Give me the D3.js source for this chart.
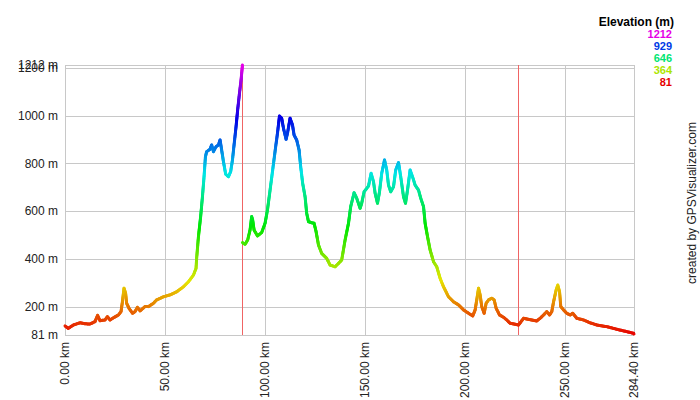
<!DOCTYPE html>
<html><head><meta charset="utf-8">
<script src="https://cdn.jsdelivr.net/npm/d3@7"></script>
<style>body{margin:0;background:#fff}svg{display:block;font-family:Arial,"Liberation Sans",sans-serif}</style>
</head><body><svg width="700" height="400"></svg>
<script>
// Track 1 (km, elevation m)
const track1Km  = [0,1.6,4.2,7.5,10,12.5,15,16.3,17.5,20,21.2,22.5,24.2,26.7,28,28.7,29.5,30.3,30.8,32,33.8,35,36.2,37.5,40,41.7,44.2,45.8,49.2,52.5,55.8,59.2,61.7,64.2,65.5,65.8,66.7,67.8,68.7,69.5,70.2,70.8,72.5,73.3,74.2,75.5,76.7,77.5,78.3,79.2,80.3,81.7,82.8,83.7,84.5,85.5,86.3,87.2,88,88.7];
const track1Ele = [119,109,123,132,128,127,137,163,141,144,158,144,153,165,179,220,277,256,214,193,172,179,197,182,200,200,214,228,241,249,262,283,304,332,360,402,493,577,660,744,828,849,859,877,849,870,877,898,856,807,755,744,765,814,877,954,1024,1093,1149,1212];
// Track 2 (km, elevation m)
const track2Km  = [88.7,90,91.3,92.5,93.3,93.8,94.5,96.2,98.3,100,101.2,102.5,103.8,105.3,106.2,107.2,108.3,109.2,110.5,111.2,112.5,113.7,114.5,115.8,117,117.8,118.8,120,120.8,121.7,123.3,124.5,125.5,126.7,128.3,130.8,132.5,135,136.7,138.3,140,141.7,142.8,144.5,145.8,147.5,148.3,149.5,151.7,153,154.2,155,156.2,157.2,158.3,159.7,160.8,161.7,162.8,164.2,165.3,166.7,167.8,169.2,170.2,171.2,172.5,173.7,175,176.7,177.8,179.2,180,181.2,182.5,184.2,185.8,187.5,189.2,191.7,194.2,196.7,199.2,201.7,203.8,205,205.8,206.7,207.5,208.3,209.5,210.5,211.7,213.3,214.5,215.5,217.2,219.2,220.8,222.5,225,226.7,229.2,230.8,233.3,235.8,237.5,239.2,240.8,242.2,243.3,244.2,245.5,246.3,247.2,247.8,249.2,250.8,252.5,253.8,255.8,259.2,262.5,265.8,270.8,275.8,280.8,284.2,284.4];
const track2Ele = [468,461,479,521,577,563,521,496,510,549,605,688,772,870,926,998,989,947,901,926,989,961,919,898,856,786,716,660,591,556,551,549,514,458,423,402,374,367,381,395,479,549,619,677,654,612,633,681,705,758,723,675,633,681,758,814,772,709,681,702,772,803,744,660,633,688,772,744,709,688,654,619,549,493,437,388,367,318,283,241,220,207,186,172,161,186,228,277,249,200,172,214,228,235,228,193,165,155,144,130,126,123,151,148,144,140,151,165,179,165,179,220,270,290,262,200,186,172,165,172,151,144,132,123,116,105,95,88,85];

const xTickValues = [0,50,100,150,200,250,284.4];
const yTickValues = [81,200,400,600,800,1000,1200,1212];
const legendValues = [1212,929,646,364,81];
const markerKm = [88.7,226.2];
const legendTitle = "Elevation (m)";
const creditText = "created by GPSVisualizer.com";

const svg = d3.select("svg");
const x = d3.scaleLinear().domain([0,284.4]).range([65,634]);
const y = d3.scaleLinear().domain([81,1212]).range([335,65]);
const hue = d3.scaleLinear().domain([81,1212]).range([0,300]);
const col = v => d3.hsl(hue(v),1,0.45).formatHex();

// grid
const g = svg.append("g").attr("shape-rendering","crispEdges");
g.selectAll(".hg").data(yTickValues).join("line")
  .attr("x1",x(0)).attr("x2",x(284.4))
  .attr("y1",d=>Math.round(y(d))+0.5).attr("y2",d=>Math.round(y(d))+0.5)
  .attr("stroke","#c8c8c8");
g.selectAll(".vg").data(xTickValues).join("line")
  .attr("y1",y(1212)).attr("y2",y(81))
  .attr("x1",d=>Math.round(x(d))+0.5).attr("x2",d=>Math.round(x(d))+0.5)
  .attr("stroke","#c8c8c8");
// markers
g.selectAll(".mk").data(markerKm).join("line")
  .attr("y1",y(1212)).attr("y2",y(81))
  .attr("x1",d=>Math.round(x(d))+0.5).attr("x2",d=>Math.round(x(d))+0.5)
  .attr("stroke","#f06464");

// profile, coloured by elevation
const lg = svg.append("g").attr("stroke-width",3).attr("stroke-linecap","round");
[[track1Km,track1Ele],[track2Km,track2Ele]].forEach(([ks,es])=>{
  for(let i=0;i<ks.length-1;i++){
    const x0=x(ks[i]),y0=y(es[i]),x1=x(ks[i+1]),y1=y(es[i+1]);
    const n=Math.max(1,Math.ceil(Math.hypot(x1-x0,y1-y0)/1.5));
    for(let j=0;j<n;j++){
      const t0=j/n,t1=(j+1)/n,tm=(t0+t1)/2;
      lg.append("line")
        .attr("x1",x0+(x1-x0)*t0).attr("y1",y0+(y1-y0)*t0)
        .attr("x2",x0+(x1-x0)*t1).attr("y2",y0+(y1-y0)*t1)
        .attr("stroke",col(es[i]+(es[i+1]-es[i])*tm));
    }
  }
});

// y labels
svg.append("g").selectAll("text").data(yTickValues).join("text")
  .attr("x",58).attr("y",d=>y(d)).attr("dy","0.35em")
  .attr("text-anchor","end").attr("font-size",12).attr("fill","#222")
  .text(d=>d+" m");
// x labels
svg.append("g").selectAll("text").data(xTickValues).join("text")
  .attr("transform",d=>`translate(${x(d)},342) rotate(-90)`)
  .attr("dy","0.35em").attr("text-anchor","end").attr("font-size",12).attr("fill","#222")
  .text(d=>d3.format(".2f")(d)+" km");

// legend
svg.append("text").attr("x",674).attr("y",26).attr("text-anchor","end")
  .attr("font-size",12).attr("font-weight","bold").attr("fill","#000").text(legendTitle);
svg.append("g").selectAll("text").data(legendValues).join("text")
  .attr("x",672).attr("y",(d,i)=>37.5+12*i).attr("text-anchor","end")
  .attr("font-size",11).attr("font-weight","bold").attr("fill",d=>col(d)).text(d=>d);

// credit
svg.append("text").attr("transform","translate(696,203) rotate(-90)")
  .attr("text-anchor","middle").attr("font-size",12).attr("fill","#222").text(creditText);
</script></body></html>
